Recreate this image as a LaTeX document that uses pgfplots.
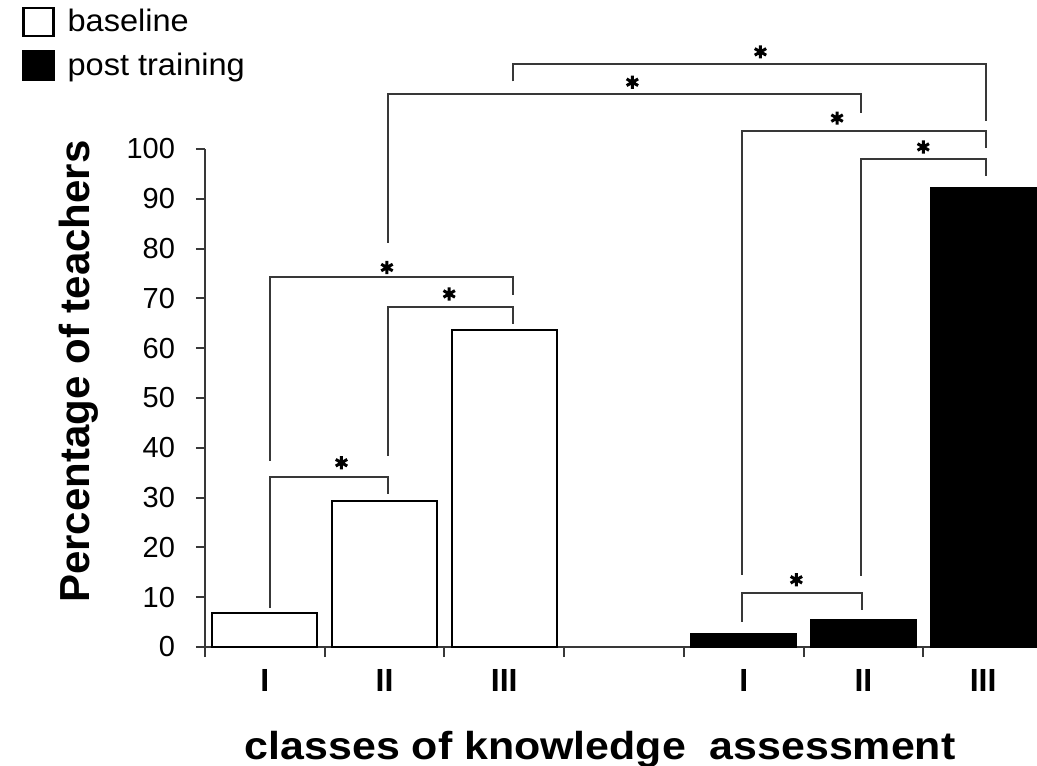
\documentclass[border=0pt]{standalone}
\usepackage{pgfplots}
\pgfplotsset{compat=1.18}
\usepackage{fontspec}
\setmainfont{Liberation Sans}
\newfontfamily\legfont[FakeStretch=1.05]{Liberation Sans}
\newfontfamily\xlabfont[FakeStretch=1.1]{Liberation Sans}
\colorlet{axgray}{black!78}

\begin{document}
\begin{tikzpicture}
\begin{axis}[
  name=ax,
  scale only axis,
  width=416pt, height=249pt,
  xmin=-0.5, xmax=6.45,
  ymin=0, ymax=100,
  clip=false,
  axis x line=bottom, axis y line=left,
  axis line style={axgray, line width=1pt, -},
  ytick={0,10,...,100},
  xtick={0,1,2,4,5,6},
  xticklabels={I,II,III,I,II,III},
  minor xtick={-0.5,0.5,...,5.5},
  tick align=outside,
  major tick length=4.5pt,
  minor tick length=5pt,
  major x tick style={draw=none},
  tick style={axgray, line width=1pt},
  /pgf/number format/assume math mode=true,
  y tick label style={font=\fontsize{14.5}{14.5}\selectfont, xshift=-7pt},
  x tick label style={font=\bfseries\fontsize{16}{16}\selectfont, yshift=-3pt},
  ylabel={Percentage of teachers},
  ylabel style={font=\bfseries\fontsize{21}{22}\selectfont,
    at={(axis description cs:-0.152,0.553)}, anchor=center},
  xlabel={classes of knowledge\ \ assessment},
  xlabel style={font=\xlabfont\bfseries\fontsize{19.5}{20}\selectfont,
    at={(axis description cs:0.475,-0.225)}, anchor=base},
  legend style={draw=none, fill=none, at={(axis description cs:-0.22,1.289)},
    anchor=north west, font=\legfont\fontsize{15.5}{17}\selectfont,
    inner sep=0pt, row sep=5pt, legend cell align=left},
]
% baseline distribution
\addplot[ybar, bar width=0.877, bar shift=0pt, fill=white, draw=black, line width=1pt,
  legend image code/.code={\draw[fill=white, draw=black, line width=1.2pt] (0pt,-7pt) rectangle (15pt,7pt);
    \path (19.5pt,0pt);}]
  coordinates {(0,6.9) (1,29.4) (2,63.7)};
\addlegendentry{baseline}
% distribution after training
\addplot[ybar, bar width=0.877, bar shift=0pt, fill=black, draw=black, line width=1pt,
  legend image code/.code={\draw[fill=black, draw=black, line width=1.2pt] (0pt,-7pt) rectangle (15pt,7pt);
    \path (19.5pt,0pt);}]
  coordinates {(4,2.6) (5,5.4) (6,92.1)};
\addlegendentry{post training}

% significance brackets
\pgfplotsset{bracket/.style={forget plot, axgray, line width=1pt, sharp plot, no marks}}
\addplot[bracket] coordinates {(0.04,7.8) (0.04,34.2) (1.03,34.2) (1.03,30.7)};
\addplot[bracket] coordinates {(0.04,37.4) (0.04,74.3) (2.07,74.3) (2.07,70.7)};
\addplot[bracket] coordinates {(1.03,38.4) (1.03,68.3) (2.07,68.3) (2.07,64.9)};
\addplot[bracket] coordinates {(2.07,113.6) (2.07,117.1) (6.02,117.1) (6.02,105.7)};
\addplot[bracket] coordinates {(1.03,81.2) (1.03,111.0) (4.98,111.0) (4.98,107.2)};
\addplot[bracket] coordinates {(3.985,14.5) (3.985,103.7) (6.02,103.7) (6.02,100.2)};
\addplot[bracket] coordinates {(4.98,14.3) (4.98,98.0) (6.02,98.0) (6.02,94.5)};
\addplot[bracket] coordinates {(3.985,5.1) (3.985,10.8) (4.99,10.8) (4.99,7.4)};

% significance markers
\addplot[forget plot, only marks, mark=asterisk, mark size=3.3pt,
  mark options={line width=1.5pt, black}]
  coordinates {(0.64,37.0) (1.02,76.2) (1.54,70.9) (4.14,119.5)
               (3.07,113.4) (4.78,106.2) (5.50,100.4) (4.44,13.5)};
\end{axis}
\pgfresetboundingbox
\path[use as bounding box] ([shift={(-102.5pt,323.5pt)}]ax.south west)
  rectangle ([shift={(0pt,-59pt)}]ax.south east);
\end{tikzpicture}
\end{document}
